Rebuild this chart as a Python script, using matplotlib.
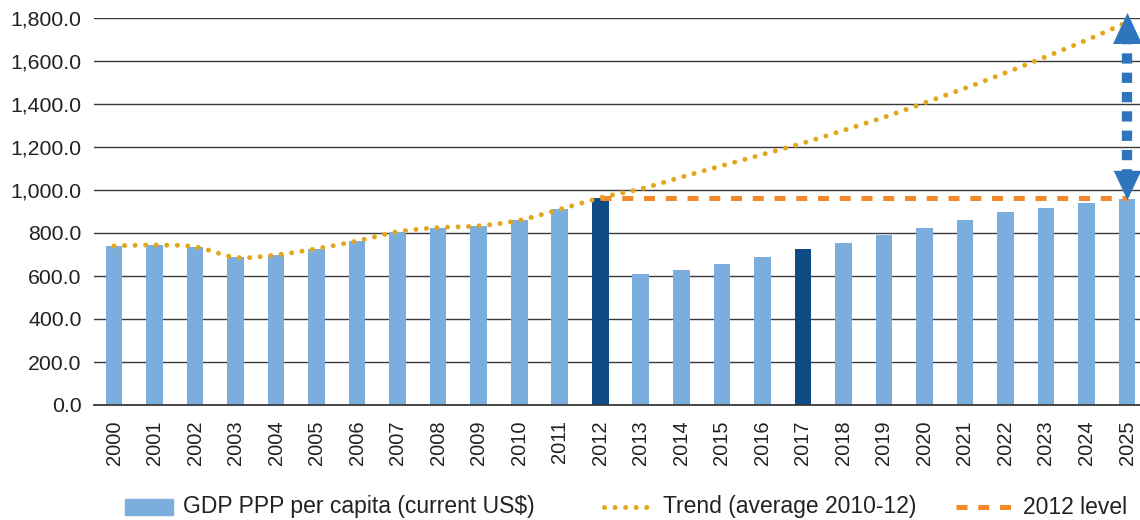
import numpy as np
import matplotlib
matplotlib.use("Agg")
import matplotlib.pyplot as plt
from matplotlib.lines import Line2D
from matplotlib.patches import Rectangle

years = [str(y) for y in range(2000, 2026)]
gdp = [740, 744, 736, 687, 698, 727, 763, 806, 825, 833, 859, 910, 964,
       609, 626, 657, 688, 725, 755, 789, 825, 862, 898, 916, 940, 960]
trend = [740, 744, 736, 687, 698, 727, 763, 806, 825, 833, 859, 910, 964,
         1005, 1060, 1113, 1165, 1218, 1277, 1338, 1405, 1473, 1545, 1620, 1697, 1780]
highlight_years = ["2012", "2017"]
level_2012 = 965
yticks = [0, 200, 400, 600, 800, 1000, 1200, 1400, 1600, 1800]

LIGHT = "#7BAEDD"
DARK = "#0F4A87"
GOLD = "#E3A71F"
ORANGE = "#F5892A"
ARROWBLUE = "#2E75BD"
FONT = ["Liberation Sans", "DejaVu Sans"]

plt.rcParams["font.family"] = FONT

fig = plt.figure(figsize=(11.4, 5.2), dpi=100)
ax = fig.add_axes([94 / 1140, 1 - 405 / 520, 1 - 94 / 1140, (405 - 18) / 520])

x = np.arange(len(years))
colors = [DARK if y in highlight_years else LIGHT for y in years]
ax.bar(x, gdp, width=0.41, color=colors, zorder=2)


def catmull_rom(xs, ys, n=20):
    xs = np.asarray(xs, float)
    ys = np.asarray(ys, float)
    px = np.concatenate([[2 * xs[0] - xs[1]], xs, [2 * xs[-1] - xs[-2]]])
    py = np.concatenate([[2 * ys[0] - ys[1]], ys, [2 * ys[-1] - ys[-2]]])
    ox, oy = [], []
    t = np.linspace(0, 1, n, endpoint=False)
    for i in range(1, len(px) - 2):
        for arr, out in ((px, ox), (py, oy)):
            p0, p1, p2, p3 = arr[i - 1], arr[i], arr[i + 1], arr[i + 2]
            out.extend(0.5 * (2 * p1 + (-p0 + p2) * t
                              + (2 * p0 - 5 * p1 + 4 * p2 - p3) * t ** 2
                              + (-p0 + 3 * p1 - 3 * p2 + p3) * t ** 3))
    ox.append(xs[-1])
    oy.append(ys[-1])
    return np.array(ox), np.array(oy)


sx, sy = catmull_rom(x, trend)
trend_kw = dict(color=GOLD, lw=3.6, dashes=(0.01, 2.1), dash_capstyle="round")
ax.plot(sx, sy, zorder=4, **trend_kw)

i12 = years.index("2012")
level_kw = dict(color=ORANGE, lw=3.6, dashes=(2.2, 2.15), dash_capstyle="butt")
ax.plot([x[i12], x[-1]], [level_2012, level_2012], zorder=3, **level_kw)

# double-headed dashed arrow between 2012 level and trend in 2025
upp = 1800 / 387.0  # data units per pixel
xa = x[-1]
top_tip = trend[-1] + 43
bot_tip = level_2012 - 7
head_px = 31
ax.plot([xa, xa], [top_tip - 21 * upp, bot_tip + 27 * upp],
        color=ARROWBLUE, lw=7.4, dashes=(1.0, 0.88),
        dash_capstyle="butt", solid_capstyle="butt", zorder=5, clip_on=False)
up_head = [(-14, -15), (14, -15), (0, 15)]
down_head = [(-14, 15), (14, 15), (0, -15)]
ms = head_px * 0.72
ax.plot([xa], [top_tip - 15 * upp], marker=up_head, ms=ms, color=ARROWBLUE,
        mec=ARROWBLUE, mew=0, zorder=6, clip_on=False)
ax.plot([xa], [bot_tip + 14 * upp], marker=down_head, ms=ms * 0.95, color=ARROWBLUE,
        mec=ARROWBLUE, mew=0, zorder=6, clip_on=False)

ax.set_xlim(-0.494, 25.32)
ax.set_ylim(0, 1800)
ax.set_yticks(yticks)
ax.set_yticklabels([f"{v:,.1f}" for v in yticks], fontsize=15.3, color="#222222")
ax.set_xticks(x)
ax.set_xticklabels(years, rotation=90, fontsize=14.5, color="#222222")
ax.tick_params(axis="both", length=0)
ax.tick_params(axis="y", pad=9)
ax.tick_params(axis="x", pad=11)
ax.grid(axis="y", color="#3a3a3a", lw=1.0, zorder=0)
ax.set_axisbelow(True)
for s in ["top", "right", "left"]:
    ax.spines[s].set_visible(False)
ax.spines["bottom"].set_color("#3a3a3a")
ax.spines["bottom"].set_linewidth(1.3)


# legend built in figure pixel coordinates
def fx(px):
    return px / 1140


def fy(py):
    return 1 - py / 520


ly = 507
fig.add_artist(Rectangle((fx(125), fy(515)), fx(48), 16 / 520, color=LIGHT,
                         transform=fig.transFigure))
fig.text(fx(183), fy(ly), "GDP PPP per capita (current US$)", fontsize=16.5,
         va="center", ha="left", color="#222222")
fig.add_artist(Line2D([fx(604), fx(652)], [fy(ly), fy(ly)], transform=fig.transFigure,
                      **trend_kw))
fig.text(fx(663), fy(ly), "Trend (average 2010-12)", fontsize=16.5,
         va="center", ha="left", color="#222222")
fig.add_artist(Line2D([fx(956), fx(1013)], [fy(ly), fy(ly)], transform=fig.transFigure,
                      **level_kw))
fig.text(fx(1023), fy(ly), "2012 level", fontsize=16.5,
         va="center", ha="left", color="#222222")

fig.savefig("out.png", dpi=100)
